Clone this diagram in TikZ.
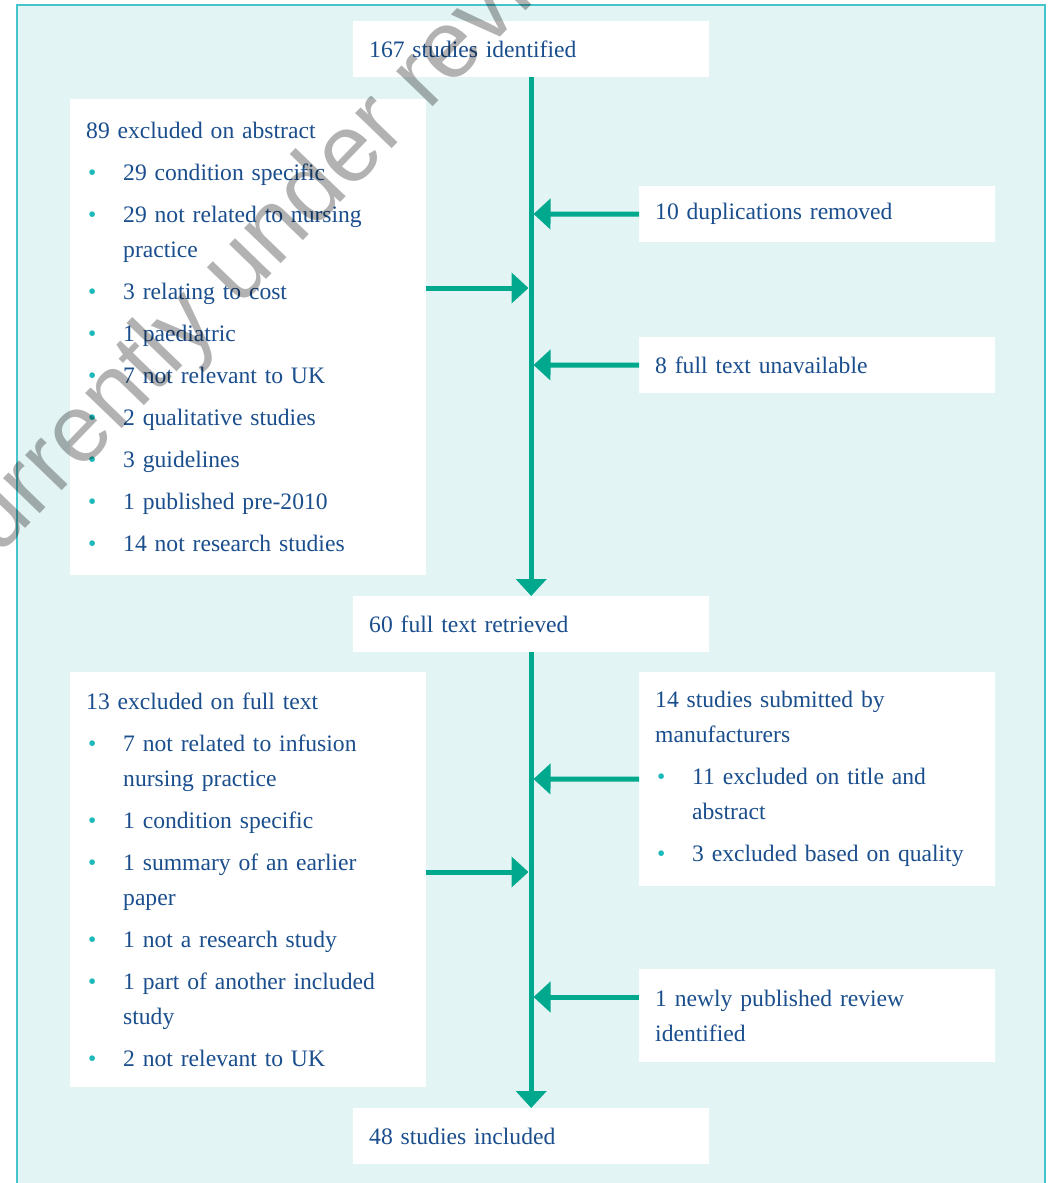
\documentclass[tikz,border=0pt]{standalone}
\usepackage{fontspec}
\setmainfont{Liberation Serif}
\newfontfamily\stampfont{Liberation Sans}
\usepackage{tikz}
\usetikzlibrary{arrows.meta}

\definecolor{frm}{HTML}{45C4CB}
\definecolor{bg}{HTML}{E3F4F4}
\definecolor{txt}{HTML}{1A4E8D}
\definecolor{arr}{HTML}{00A88D}
\definecolor{bulc}{HTML}{1CB8BA}

% bullet line with hanging indent
\newcommand{\bul}{\par\hangindent=37pt\hangafter=1\noindent\makebox[37pt][l]{\hspace{2pt}\textcolor{bulc}{\textbullet}}}

\begin{document}
\begin{tikzpicture}[x=1pt,y=-1pt]
	\tikzstyle{box}=[fill=white,text=txt,anchor=north west,text width=324pt,inner xsep=16pt,inner ysep=0pt,align=left,font={\fontsize{23.6}{35}\selectfont\setlength{\parskip}{7pt}}]
	\tikzstyle{flow}=[draw=arr,line width=5pt,-{Triangle[length=17pt,width=30pt]}]
	\tikzstyle{stamp}=[rotate=46,text=black,opacity=0.3,font=\stampfont\fontsize{96}{96}\selectfont]
	\clip (0,0) rectangle (1051,1183);
	\draw[draw=frm,fill=bg,line width=1.5pt] (17,5) rectangle (1045,1210);
	% boxes
	\node[box,minimum height=56pt] (top) at (353,21) {167 studies identified};
	\node[box,minimum height=476pt] (ex1) at (70,99) {89 excluded on abstract
		\bul 29 condition specific
		\bul 29 not related to nursing\break practice
		\bul 3 relating to cost
		\bul 1 paediatric
		\bul 7 not relevant to UK
		\bul 2 qualitative studies
		\bul 3 guidelines
		\bul 1 published pre-2010
		\bul 14 not research studies};
	\node[box,minimum height=56pt] (dup) at (639,186) {10 duplications removed};
	\node[box,minimum height=56pt] (unav) at (639,337) {8 full text unavailable};
	\node[box,minimum height=56pt] (full) at (353,596) {60 full text retrieved};
	\node[box,minimum height=415pt] (ex2) at (70,672) {13 excluded on full text
		\bul 7 not related to infusion\break nursing practice
		\bul 1 condition specific
		\bul 1 summary of an earlier\break paper
		\bul 1 not a research study
		\bul 1 part of another included\break study
		\bul 2 not relevant to UK};
	\node[box,minimum height=214pt] (manu) at (639,672) {14 studies submitted by\break manufacturers
		\bul 11 excluded on title and\break abstract
		\bul 3 excluded based on quality};
	\node[box,minimum height=93pt] (newr) at (639,969) {1 newly published review\break identified};
	\node[box,minimum height=56pt] (incl) at (353,1108) {48 studies included};
	% joins on the trunk
	\coordinate (l1) at (528.5,288);
	\coordinate (r1) at (533.5,214);
	\coordinate (r2) at (533.5,365);
	\coordinate (l2) at (528.5,872);
	\coordinate (r3) at (533.5,779);
	\coordinate (r4) at (533.5,997);
	% arrows
	\draw[flow] (top) -- (full);
	\draw[flow] (full) -- (incl);
	\draw[flow] (ex1.east |- l1) -- (l1);
	\draw[flow] (dup) -- (r1);
	\draw[flow] (unav) -- (r2);
	\draw[flow] (ex2.east |- l2) -- (l2);
	\draw[flow] (manu) -- (r3);
	\draw[flow] (newr.west |- r4) -- (r4);
	% watermark
	\node[stamp] (wm) at (268,242) {Currently under review};
\end{tikzpicture}
\end{document}
